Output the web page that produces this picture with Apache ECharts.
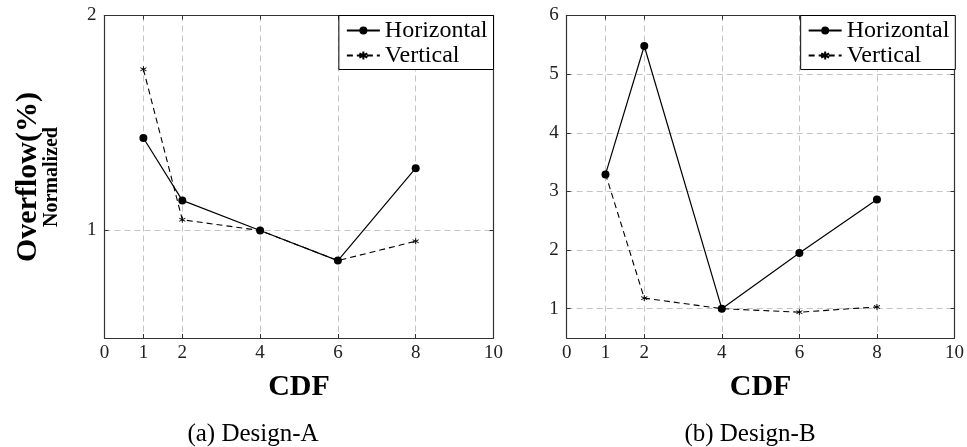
<!DOCTYPE html>
<html><head><meta charset="utf-8">
<script src="https://cdn.jsdelivr.net/npm/echarts@6/dist/echarts.min.js"></script>
<style>html,body{margin:0;padding:0;background:#fff}#c{width:967px;height:447px}</style>
</head><body><div id="c"></div>
<script>
// ---- data ----
const cdf = [1, 2, 4, 6, 8];
const designAHorizontal = [1.43, 1.14, 1.0, 0.86, 1.29];
const designAVertical   = [1.75, 1.05, 1.0, 0.86, 0.95];
const designBHorizontal = [3.29, 5.48, 1.0, 1.95, 2.86];
const designBVertical   = [3.30, 1.18, 1.0, 0.94, 1.03];
const xTicks  = [0, 1, 2, 4, 6, 8, 10];
const aYTicks = [1, 2];
const bYTicks = [1, 2, 3, 4, 5, 6];
const seriesNames = ['Horizontal', 'Vertical'];
const captions = ['(a) Design-A', '(b) Design-B'];

const FONT = 'Liberation Serif';
const AX = '#333';
const GRIDC = '#c4c4c4';
function pairs(xs, ys) { return xs.map((x, i) => [x, ys[i]]); }
const asterisk = 'path://M0,-10L0,10M-8.66,-5L8.66,5M-8.66,5L8.66,-5';

function xAxisMain(gi) {
  return {
    type: 'value', gridIndex: gi, min: 0, max: 10, position: 'bottom',
    axisLine: { show: true, onZero: false, lineStyle: { color: AX, width: 1.2 } },
    axisTick: { show: true, inside: true, length: 4, customValues: xTicks, lineStyle: { color: AX } },
    axisLabel: { customValues: xTicks, color: '#222', fontFamily: FONT, fontSize: 19, margin: 6 },
    splitLine: { show: true, lineStyle: { color: GRIDC, type: [6, 4], width: 1 } },
    name: 'CDF', nameLocation: 'middle', nameGap: 34,
    nameTextStyle: { fontFamily: FONT, fontWeight: 'bold', fontSize: 30, color: '#000' }
  };
}
function xAxisTop(gi) {
  return {
    type: 'value', gridIndex: gi, min: 0, max: 10, position: 'top',
    axisLine: { show: true, onZero: false, lineStyle: { color: AX, width: 1.2 } },
    axisTick: { show: true, inside: true, length: 4, customValues: xTicks, lineStyle: { color: AX } },
    axisLabel: { show: false }, splitLine: { show: false }
  };
}
function yAxisMain(gi, max, ticks) {
  return {
    type: 'value', gridIndex: gi, min: 0.5, max: max, position: 'left',
    axisLine: { show: true, onZero: false, lineStyle: { color: AX, width: 1.2 } },
    axisTick: { show: true, inside: true, length: 4, customValues: ticks, lineStyle: { color: AX } },
    axisLabel: { customValues: ticks, color: '#222', fontFamily: FONT, fontSize: 19, margin: 8 },
    splitLine: { show: true, lineStyle: { color: GRIDC, type: [6, 4], width: 1 } }
  };
}
function yAxisRight(gi, max, ticks) {
  return {
    type: 'value', gridIndex: gi, min: 0.5, max: max, position: 'right',
    axisLine: { show: true, onZero: false, lineStyle: { color: AX, width: 1.2 } },
    axisTick: { show: true, inside: true, length: 4, customValues: ticks, lineStyle: { color: AX } },
    axisLabel: { show: false }, splitLine: { show: false }
  };
}
function lineSeries(name, gi, ys, dashed) {
  return {
    name: name, type: 'line', xAxisIndex: gi * 2, yAxisIndex: gi * 2,
    data: pairs(cdf, ys), z: 5,
    symbol: dashed ? asterisk : 'circle', symbolSize: dashed ? 6 : 8,
    showAllSymbol: true,
    lineStyle: { color: '#000', width: dashed ? 1.1 : 1.2, type: dashed ? [6, 4] : 'solid' },
    itemStyle: dashed ? { color: '#000', borderColor: '#000', borderWidth: 1 } : { color: '#000' },
    emphasis: { disabled: true }
  };
}
function legend(right, top) {
  return {
    data: seriesNames, orient: 'vertical', right: right, top: top,
    backgroundColor: '#fff', borderColor: '#000', borderWidth: 1,
    padding: [3, 6, 2, 7], itemGap: 1, itemWidth: 33, itemHeight: 10,
    textStyle: { fontFamily: FONT, fontSize: 24, color: '#000', lineHeight: 24 },
    selectedMode: false
  };
}

const chart = echarts.init(document.getElementById('c'));
chart.setOption({
  animation: false,
  backgroundColor: '#fff',
  grid: [
    { left: 104.5, right: 473.5, top: 15.5, bottom: 109 },
    { left: 566.7, right: 11.7, top: 15.5, bottom: 109 }
  ],
  xAxis: [xAxisMain(0), xAxisTop(0), xAxisMain(1), xAxisTop(1)],
  yAxis: [yAxisMain(0, 2, aYTicks), yAxisRight(0, 2, aYTicks), yAxisMain(1, 6, bYTicks), yAxisRight(1, 6, bYTicks)],
  legend: [legend(473.5, 15.5), legend(11.7, 15.5)],
  series: [
    lineSeries(seriesNames[0], 0, designAHorizontal, false),
    lineSeries(seriesNames[1], 0, designAVertical, true),
    lineSeries(seriesNames[0], 1, designBHorizontal, false),
    lineSeries(seriesNames[1], 1, designBVertical, true)
  ],
  graphic: [
    { type: 'text', x: 28, y: 177, rotation: Math.PI / 2,
      style: { text: 'Overflow(%)', align: 'center', verticalAlign: 'middle', fill: '#000',
               font: 'bold 30px "Liberation Serif"' } },
    { type: 'text', x: 52, y: 177, rotation: Math.PI / 2,
      style: { text: 'Normalized', align: 'center', verticalAlign: 'middle', fill: '#000',
               font: 'bold 20px "Liberation Serif"' } },
    { type: 'text', x: 253, y: 434,
      style: { text: captions[0], align: 'center', verticalAlign: 'middle', fill: '#000',
               font: '25px "Liberation Serif"' } },
    { type: 'text', x: 750, y: 434,
      style: { text: captions[1], align: 'center', verticalAlign: 'middle', fill: '#000',
               font: '25px "Liberation Serif"' } }
  ]
});
</script></body></html>
